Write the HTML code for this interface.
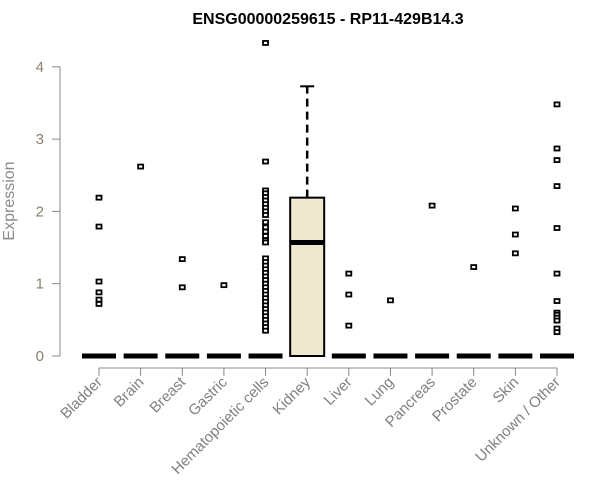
<!DOCTYPE html>
<html><head><meta charset="utf-8"><style>body{margin:0;background:#fff}svg{display:block;font-family:"Liberation Sans",Arial,sans-serif}</style></head>
<body>
<svg id="chart" width="600" height="500" viewBox="0 0 600 500" xmlns="http://www.w3.org/2000/svg">
<text x="328" y="24" text-anchor="middle" font-size="16" font-weight="bold">ENSG00000259615 - RP11-429B14.3</text>
<text transform="translate(14,201) rotate(-90)" text-anchor="middle" font-size="16" fill="#8a8a8a">Expression</text>
<g id="plot"></g>
</svg>
<script>
const categories = ["Bladder","Brain","Breast","Gastric","Hematopoietic cells","Kidney","Liver","Lung","Pancreas","Prostate","Skin","Unknown / Other"];
const medians = [0,0,0,0,0,1.57,0,0,0,0,0,0];
const q1s = [0,0,0,0,0,0,0,0,0,0,0,0];
const q3s = [0,0,0,0,0,2.19,0,0,0,0,0,0];
const whiskerHigh = [0,0,0,0,0,3.73,0,0,0,0,0,0];
const outliers = [
 [2.19,1.79,1.03,0.88,0.78,0.72],
 [2.62],
 [1.34,0.95],
 [0.98],
 [4.33,2.69,2.29,2.25,2.2,2.15,2.1,2.05,2.0,1.95,1.85,1.78,1.72,1.66,1.6,1.57,1.35,1.3,1.25,1.2,1.15,1.1,1.05,1.0,0.95,0.9,0.85,0.8,0.75,0.7,0.65,0.6,0.55,0.5,0.45,0.4,0.35],
 [],
 [1.14,0.85,0.42],
 [0.77],
 [2.08],
 [1.23],
 [2.04,1.68,1.42],
 [3.48,2.87,2.71,2.35,1.77,1.14,0.76,0.6,0.57,0.53,0.49,0.38,0.33]
];
const yTicks = [0,1,2,3,4];

const NS="http://www.w3.org/2000/svg";
const g=document.getElementById('plot');
const x0=99, dx=(557-99)/11;
const xs=i=>x0+i*dx;
const ys=v=>356-v*72.3;
function mk(t,a){const e=document.createElementNS(NS,t);for(const k in a)e.setAttribute(k,a[k]);g.appendChild(e);return e;}

let ax=mk('line',{x1:60,x2:60,y1:ys(0),y2:ys(4),stroke:'#888'});


yTicks.forEach(t=>{
  let l=mk('line',{x1:52,x2:60,y1:ys(t),y2:ys(t),stroke:'#888'});
  
  
  let tx=mk('text',{x:44,y:ys(t)+5,'text-anchor':'end','font-size':15,fill:'#8a8070'});
  
  
  tx.textContent=t;
});
let xa=mk('line',{x1:xs(0),x2:xs(11),y1:368,y2:368,stroke:'#888'});



categories.forEach((c,i)=>{
  const x=xs(i);
  let tk=mk('line',{x1:x,x2:x,y1:368,y2:376,stroke:'#888'});
  
  
  let lb=mk('text',{x:x+4,y:383,'text-anchor':'end','font-size':15,fill:'#808080',transform:`rotate(-45 ${x+4} 383)`});
  
  
  lb.textContent=c;
  const hw=17;
  if(q3s[i]>q1s[i]){
    let wl=mk('line',{x1:x,x2:x,y1:ys(q3s[i]),y2:ys(whiskerHigh[i]),stroke:'#000','stroke-width':2.5,'stroke-dasharray':'8,5'});
    
    
    let cap=mk('line',{x1:x-7,x2:x+7,y1:ys(whiskerHigh[i]),y2:ys(whiskerHigh[i]),stroke:'#000','stroke-width':2});
    
    
    let b=mk('rect',{x:x-hw,y:ys(q3s[i]),width:2*hw,height:ys(q1s[i])-ys(q3s[i]),fill:'#ede8cf',stroke:'#000','stroke-width':2});
    
    
  }
  let m=mk('line',{x1:x-hw,x2:x+hw,y1:ys(medians[i]),y2:ys(medians[i]),stroke:'#000','stroke-width':5});
  
  
  outliers[i].forEach(v=>{
    let p=mk('rect',{x:x-2.5,y:ys(v)-2,width:5,height:4,fill:'#fff',stroke:'#000','stroke-width':1.8});
    
    
  });
});
</script>
</body></html>
